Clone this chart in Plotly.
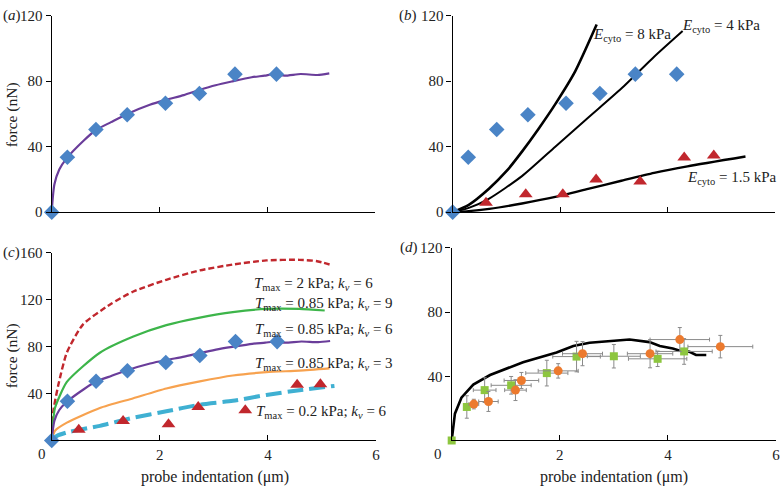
import plotly.graph_objects as go

W, H = 784, 493
FONT = "Liberation Serif"

# ---------------- data ----------------
# experimental data (blue diamonds), panels a, b, c
diamond_x = [0, 0.29, 0.82, 1.40, 2.11, 2.74, 3.40, 4.17]
diamond_y = [0, 33.5, 50.5, 59.5, 66.5, 72.5, 84.3, 84.3]

# model Tmax = 0.85 kPa, kv = 6 (purple)
model6_x = [0, 0.02, 0.05, 0.14, 0.28, 0.6, 0.82, 1.1, 1.38, 1.82, 2.12, 2.45, 2.73,
            3.04, 3.34, 3.71, 3.95, 4.13, 4.32, 4.62, 4.93, 5.15]
model6_y = [0, 9, 17, 26, 33, 43.9, 50.2, 55, 59.7, 65.6, 68.6, 71.5, 74.5,
            77.5, 79.8, 82.4, 83.4, 84.4, 83.4, 84.4, 83.8, 84.8]

# panel b: triangles and elastic curves
tri_b_x = [0.62, 1.36, 2.05, 2.67, 3.49, 4.31, 4.86]
tri_b_y = [5.7, 10.9, 10.9, 20.0, 18.8, 33.4, 34.6]
e8_x = [0, 0.3, 0.68, 1.0, 1.29, 1.6, 1.91, 2.28, 2.68]
e8_y = [0, 4.5, 14.5, 25, 37, 51, 66, 86, 114.6]
e4_x = [0, 0.3, 0.68, 1.29, 1.91, 2.52, 3.14, 3.75, 4.28]
e4_y = [0, 2.6, 8.3, 22, 40, 57.7, 75.5, 95, 110.7]
e15_x = [0, 0.3, 0.68, 1.29, 1.91, 2.52, 3.14, 3.75, 4.37, 5.45]
e15_y = [0, 0.6, 2, 5.3, 9.3, 14.2, 19.2, 24, 28, 34]

# panel c: triangles and model curves
tri_c_x = [0.50, 1.32, 2.16, 2.71, 3.58, 4.54, 4.97]
tri_c_y = [9.1, 16.6, 13.9, 28.5, 25.8, 47.6, 47.9]
t2k6_x = [0, 0.03, 0.12, 0.28, 0.58, 1.08, 1.51, 2.12, 2.74, 3.35, 3.97, 4.58, 4.89, 5.14]
t2k6_y = [0, 25, 47, 75, 99, 116, 127, 137, 145, 150, 153.5, 154, 153, 150]
k9_x = [0, 0.03, 0.06, 0.28, 0.89, 1.51, 2.12, 2.74, 3.35, 3.97, 4.58, 5.05]
k9_y = [0, 18, 27.7, 49.9, 74.8, 88.6, 98.3, 104.7, 109.4, 112.2, 112.2, 110.8]
k3_x = [0, 0.06, 0.28, 0.89, 1.51, 2.12, 2.74, 3.35, 3.97, 4.58, 5.14]
k3_y = [0, 8.3, 15.2, 27.7, 36, 44.3, 50.4, 55.4, 58.2, 59.6, 61.5]
t02_x = [0, 0.1, 0.28, 0.89, 1.51, 2.12, 2.74, 3.35, 3.97, 4.58, 5.23]
t02_y = [0, 4, 6.9, 12.5, 19.4, 24.9, 30.5, 33.8, 38.8, 42.9, 46.5]

# panel d: simulation and two experimental series with error bars
sim_d_x = [0, 0.03, 0.06, 0.18, 0.4, 0.71, 1.32, 1.94, 2.25, 2.55, 3.17, 3.29,
           3.66, 3.85, 4.09, 4.22, 4.4, 4.52, 4.71]
sim_d_y = [0, 8.6, 16.7, 26.7, 34.8, 40.8, 48.8, 54.9, 58.9, 60.9, 62.5, 62.9,
           61.3, 58.9, 57.3, 55.9, 55.3, 53.3, 53.3]
sq_x = [0, 0.28, 0.61, 1.10, 1.76, 2.31, 3.00, 3.81, 4.30]
sq_y = [0, 20.9, 31.4, 34.4, 42.0, 52.3, 52.5, 50.9, 55.5]
sq_xerr = [0, 0, 0.21, 0.37, 0.39, 0.44, 0.49, 0.54, 0.52]
sq_yerr = [0, 7, 7.7, 5.5, 8, 9.5, 7.3, 4.8, 8]
circ_x = [0.41, 0.68, 1.18, 1.29, 1.97, 2.42, 3.67, 4.22, 4.97]
circ_y = [22.7, 24.3, 31.4, 37.4, 43.4, 54.1, 54.1, 62.9, 58.5]
circ_xerr = [0.09, 0.18, 0.2, 0.32, 0.37, 0.37, 0.42, 0.55, 0.6]
circ_yerr = [3, 6.2, 6.5, 5, 4.5, 7.5, 8.8, 7.5, 7]

# tick labels
xtick_vals = [2, 4, 6]
xtick_text = ["2", "4", "6"]
ytick_ab = [0, 40, 80, 120]
ytick_c = [40, 80, 120, 160]
ytick_d = [40, 80, 120]

# ---------------- colours ----------------
BLUE = "#4a84c6"
RED_TRI = "#c1272d"
PURPLE = "#6a3d9a"
RED_DASH = "#c1272d"
GREEN = "#3db54a"
ORANGE_L = "#f7a24f"
CYAN = "#3fb0d2"
ORANGE_C = "#ec7a2e"
GREEN_SQ = "#8dc63f"


def px(x, y):
    return x / W, 1 - y / H


fig = go.Figure()


def diamonds(ax, ay):
    return go.Scatter(x=diamond_x, y=diamond_y, mode="markers", xaxis=ax, yaxis=ay,
                      marker=dict(symbol="diamond", size=12, color=BLUE),
                      cliponaxis=False, showlegend=False)


def line(xs, ys, ax, ay, color, width=2, dash="solid"):
    return go.Scatter(x=xs, y=ys, mode="lines", xaxis=ax, yaxis=ay,
                      line=dict(color=color, width=width, dash=dash, shape="spline", smoothing=0.6),
                      cliponaxis=False, showlegend=False)


def triangles(xs, ys, ax, ay):
    return go.Scatter(x=xs, y=ys, mode="markers", xaxis=ax, yaxis=ay,
                      marker=dict(symbol="triangle-up", size=12, color=RED_TRI),
                      cliponaxis=False, showlegend=False)


# panel a
fig.add_trace(line(model6_x, model6_y, "x", "y", PURPLE, 2.2))
fig.add_trace(diamonds("x", "y"))

# panel b
fig.add_trace(line(e8_x, e8_y, "x2", "y2", "black", 2.6))
fig.add_trace(line(e4_x, e4_y, "x2", "y2", "black", 2))
fig.add_trace(line(e15_x, e15_y, "x2", "y2", "black", 2.4))
fig.add_trace(diamonds("x2", "y2"))
fig.add_trace(triangles(tri_b_x, tri_b_y, "x2", "y2"))

# panel c
fig.add_trace(line(t2k6_x, t2k6_y, "x3", "y3", RED_DASH, 2.4, "6px,3px"))
fig.add_trace(line(k9_x, k9_y, "x3", "y3", GREEN, 2.2))
fig.add_trace(line(k3_x, k3_y, "x3", "y3", ORANGE_L, 2.2))
fig.add_trace(line(model6_x, model6_y, "x3", "y3", PURPLE, 2.2))
fig.add_trace(line(t02_x, t02_y, "x3", "y3", CYAN, 4, "16px,6px"))
fig.add_trace(diamonds("x3", "y3"))
fig.add_trace(triangles(tri_c_x, tri_c_y, "x3", "y3"))

# panel d
fig.add_trace(go.Scatter(x=sim_d_x, y=sim_d_y, mode="lines", xaxis="x4", yaxis="y4",
                         line=dict(color="black", width=2.6), cliponaxis=False, showlegend=False))
errstyle = dict(color="#8a8a8a", thickness=1, width=2)
fig.add_trace(go.Scatter(x=sq_x, y=sq_y, mode="markers", xaxis="x4", yaxis="y4",
                         marker=dict(symbol="square", size=8, color=GREEN_SQ),
                         error_x=dict(type="data", array=sq_xerr, **errstyle),
                         error_y=dict(type="data", array=sq_yerr, **errstyle),
                         cliponaxis=False, showlegend=False))
fig.add_trace(go.Scatter(x=circ_x, y=circ_y, mode="markers", xaxis="x4", yaxis="y4",
                         marker=dict(symbol="circle", size=9, color=ORANGE_C),
                         error_x=dict(type="data", array=circ_xerr, **errstyle),
                         error_y=dict(type="data", array=circ_yerr, **errstyle),
                         cliponaxis=False, showlegend=False))

# ---------------- axes ----------------
tickfont = dict(family=FONT, size=15, color="#222")


def xax(x0, x1, labels):
    return dict(domain=[x0 / W, x1 / W], range=[0, 6], showline=True, linecolor="black",
                linewidth=1.4, showgrid=False, zeroline=False, ticks="inside", ticklen=5,
                tickwidth=1.2, tickcolor="black", tickvals=xtick_vals,
                ticktext=xtick_text if labels else ["", "", ""], tickfont=tickfont,
                fixedrange=True)


def yax(y_top, y_bot, rng, vals, anchor_x):
    return dict(domain=[1 - y_bot / H, 1 - y_top / H], range=rng, showline=True,
                linecolor="black", linewidth=1.4, showgrid=False, zeroline=False,
                ticks="outside", ticklen=5, tickwidth=1.2, tickcolor="black",
                tickvals=vals, ticktext=[str(v) for v in vals], tickfont=tickfont,
                anchor=anchor_x, fixedrange=True)


fig.update_layout(
    width=W, height=H, margin=dict(l=0, r=0, t=0, b=0),
    paper_bgcolor="white", plot_bgcolor="white", showlegend=False,
    font=dict(family=FONT, size=15, color="#222"),
    xaxis=dict(xax(52, 377, False), anchor="y"),
    yaxis=yax(8, 211, [0, 120], ytick_ab, "x"),
    xaxis2=dict(xax(455, 779, False), anchor="y2"),
    yaxis2=yax(8, 211, [0, 120], ytick_ab, "x2"),
    xaxis3=dict(xax(52, 378, True), anchor="y3"),
    yaxis3=yax(253, 447, [0, 160], ytick_c, "x3"),
    xaxis4=dict(xax(454, 780, True), anchor="y4"),
    yaxis4=yax(248, 447, [0, 120], ytick_d, "x4"),
)

# ---------------- annotations ----------------
ann = []


def text_px(t, x, y, size=15, xanchor="center", angle=0):
    px_x, px_y = px(x, y)
    ann.append(dict(text=t, x=px_x, y=px_y, xref="paper", yref="paper", showarrow=False,
                    xanchor=xanchor, yanchor="middle", textangle=angle,
                    font=dict(family=FONT, size=size, color="#222")))


# panel letters
text_px("(<i>a</i>)", 1, 8, xanchor="left")
text_px("(<i>b</i>)", 399, 8, xanchor="left")
text_px("(<i>c</i>)", 1, 253, xanchor="left")
text_px("(<i>d</i>)", 400, 248, xanchor="left")
# axis titles
text_px("force (nN)", 12, 110, size=15.5, angle=-90)
text_px("force (nN)", 12, 359, size=15.5, angle=-90)
text_px("probe indentation (μm)", 216, 485, size=16)
text_px("probe indentation (μm)", 617, 485, size=16)
# x zero labels (offset to the left, as in the original)
text_px("0", 42, 461)
text_px("0", 440, 461)


def text_data(t, x, y, ax, ay, xanchor="left", size=15):
    ann.append(dict(text=t, x=x, y=y, xref=ax, yref=ay, showarrow=False,
                    xanchor=xanchor, yanchor="middle",
                    font=dict(family=FONT, size=size, color="#222")))


E = "<i>E</i><sub>cyto</sub>"
text_data(E + " = 8 kPa", 3.33, 108, "x2", "y2", "center")
text_data(E + " = 4 kPa", 5.0, 114, "x2", "y2", "center")
text_data(E + " = 1.5 kPa", 5.2, 21, "x2", "y2", "center")

T = "<i>T</i><sub>max</sub>"
K = "<i>k<sub>v</sub></i>"
text_data(T + " = 2 kPa; " + K + " = 6", 3.7, 133.5, "x3", "y3")
text_data(T + " = 0.85 kPa; " + K + " = 9", 3.72, 116.5, "x3", "y3")
text_data(T + " = 0.85 kPa; " + K + " = 6", 3.72, 94, "x3", "y3")
text_data(T + " = 0.85 kPa; " + K + " = 3", 3.72, 65, "x3", "y3")
text_data(T + " = 0.2 kPa; " + K + " = 6", 3.75, 24, "x3", "y3")

fig.update_layout(annotations=ann)

fig.write_html("out.html", config={"displayModeBar": False},
               post_script="document.body.style.margin='0';")
